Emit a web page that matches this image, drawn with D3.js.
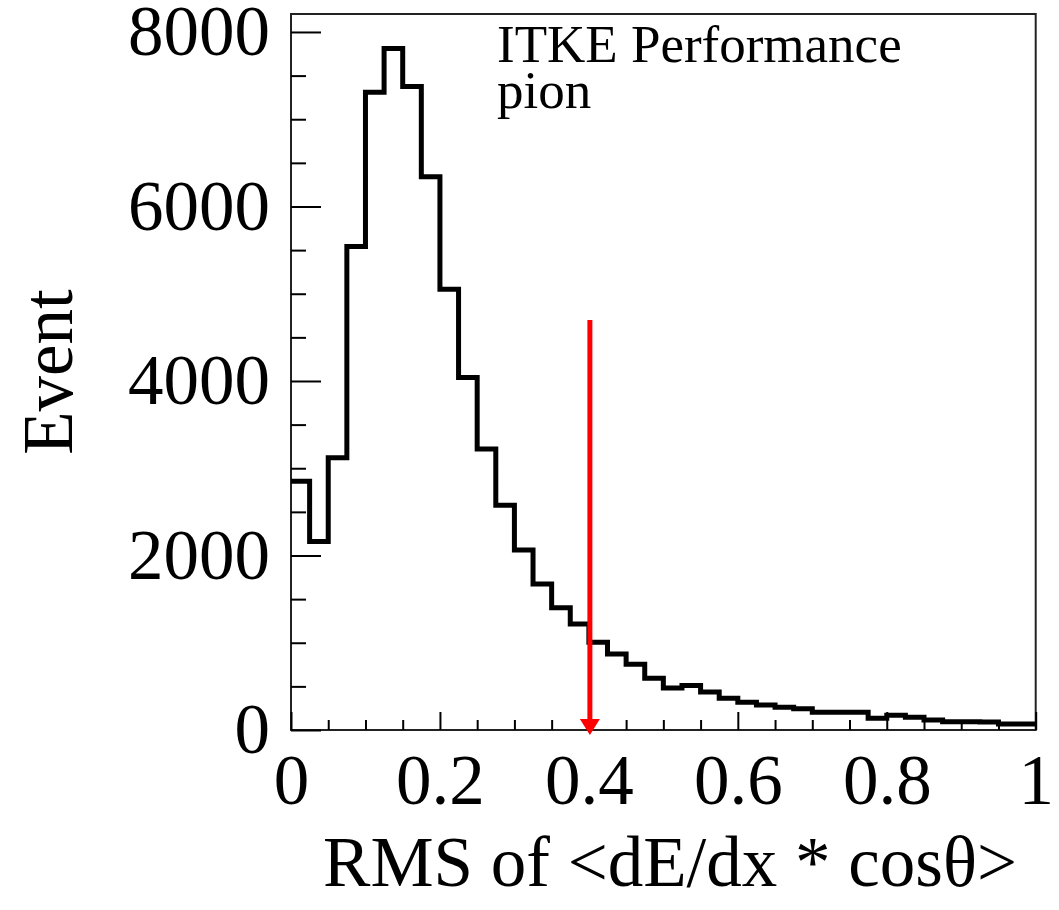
<!DOCTYPE html>
<html>
<head>
<meta charset="utf-8">
<script src="https://cdn.jsdelivr.net/npm/d3@7"></script>
<style>
  body { margin: 0; background: #fff; }
  text { font-family: "Liberation Serif", "Times New Roman", serif; fill: #000; }
</style>
</head>
<body>
<div id="chart"></div>
<script>
const width = 1059;
const height = 910;

// histogram: 40 bins of width 0.025 over [0, 1]
const binWidth = 0.025;
const counts = [2850, 2160, 3120, 5540, 7310, 7810, 7375, 6340, 5050, 4040,
                3220, 2575, 2063, 1673, 1402, 1215, 1005, 871, 753, 593,
                480, 510, 435, 363, 317, 287, 260, 243, 203, 203,
                203, 134, 170, 145, 115, 95, 95, 92, 69, 69];

const xMajor = [0, 0.2, 0.4, 0.6, 0.8, 1];
const xMinor = [0.05, 0.1, 0.15, 0.25, 0.3, 0.35, 0.45, 0.5, 0.55, 0.65, 0.7, 0.75, 0.85, 0.9, 0.95];
const yMajor = [0, 2000, 4000, 6000, 8000];
const yMinor = [500, 1000, 1500, 2500, 3000, 3500, 4500, 5000, 5500, 6500, 7000, 7500];

const cutValue = 0.4;      // red arrow position
const arrowTop = 4700;

const margin = {left: 291, right: 23.3, top: 14, bottom: 180};

const x = d3.scaleLinear()
    .domain([0, 1])
    .range([margin.left, width - margin.right]);

const y = d3.scaleLinear()
    .domain([0, 8206])
    .range([height - margin.bottom, margin.top]);

const svg = d3.select('#chart')
    .append('svg')
    .attr('width', width)
    .attr('height', height);

// frame
svg.append('rect')
    .attr('x', x(0))
    .attr('y', y(8206))
    .attr('width', x(1) - x(0))
    .attr('height', y(0) - y(8206))
    .attr('fill', 'none')
    .attr('stroke', '#222')
    .attr('stroke-width', 2);

// y axis, ticks pointing inward
const yAxis = svg.append('g')
    .attr('transform', `translate(${x(0)},0)`)
    .call(d3.axisLeft(y).tickValues(yMajor).tickSize(-30).tickPadding(21).tickFormat(d3.format('d')));
svg.append('g')
    .attr('transform', `translate(${x(0)},0)`)
    .call(d3.axisLeft(y).tickValues(yMinor).tickSize(-15).tickFormat(''));

// x axis
const xAxis = svg.append('g')
    .attr('transform', `translate(0,${y(0)})`)
    .call(d3.axisBottom(x).tickValues(xMajor).tickSize(-18).tickPadding(24).tickFormat(d => d === 0 || d === 1 ? d : d3.format('.1f')(d)));
svg.append('g')
    .attr('transform', `translate(0,${y(0)})`)
    .call(d3.axisBottom(x).tickValues(xMinor).tickSize(-10).tickFormat(''));

svg.selectAll('.domain').remove();
svg.selectAll('.tick line').attr('stroke', '#000').attr('stroke-width', 2);
svg.selectAll('.tick text')
    .style('font-family', '"Liberation Serif", serif')
    .style('font-size', '71px');

// histogram outline
const pts = counts.map((c, i) => [i * binWidth, c]);
pts.push([1, counts[counts.length - 1]]);

const line = d3.line()
    .x(d => x(d[0]))
    .y(d => y(d[1]))
    .curve(d3.curveStepAfter);

svg.append('path')
    .datum(pts)
    .attr('d', line)
    .attr('fill', 'none')
    .attr('stroke', '#000')
    .attr('stroke-width', 5)
    .attr('stroke-linejoin', 'miter');

// cut arrow
const ax = x(cutValue) + 1;
svg.append('line')
    .attr('x1', ax).attr('x2', ax)
    .attr('y1', y(arrowTop)).attr('y2', y(0) - 10)
    .attr('stroke', '#ff0000')
    .attr('stroke-width', 5);
svg.append('path')
    .attr('d', `M${ax - 10},${y(0) - 11} L${ax + 10},${y(0) - 11} L${ax},${y(0) + 5} Z`)
    .attr('fill', '#ff0000');

// labels
svg.append('text')
    .attr('x', 497)
    .attr('y', 62)
    .style('font-size', '53px')
    .text('ITKE Performance');
svg.append('text')
    .attr('x', 497)
    .attr('y', 108)
    .style('font-size', '53px')
    .text('pion');

svg.append('text')
    .attr('transform', `translate(72,${(y(0) + y(8206)) / 2}) rotate(-90)`)
    .attr('text-anchor', 'middle')
    .style('font-size', '71px')
    .text('Event');

svg.append('text')
    .attr('x', 1017)
    .attr('y', 886)
    .attr('text-anchor', 'end')
    .style('font-size', '71px')
    .text('RMS of <dE/dx * cosθ>');
</script>
</body>
</html>
